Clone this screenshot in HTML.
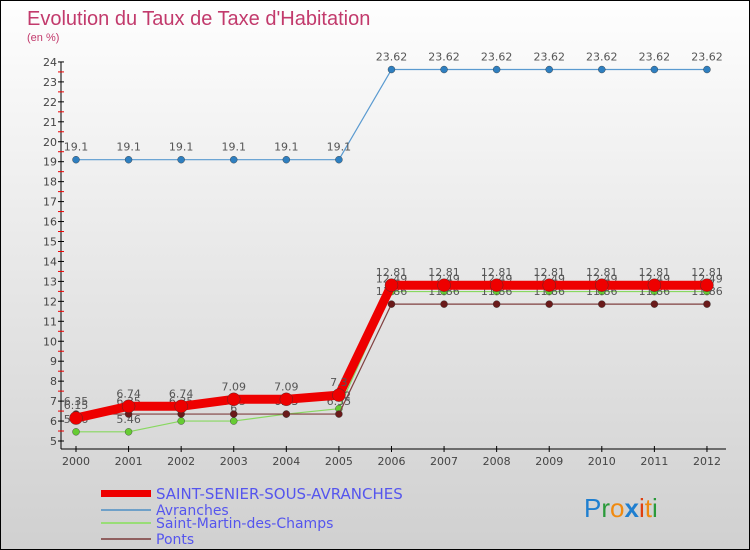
<!DOCTYPE html>
<html><head><meta charset="utf-8"><style>
body{margin:0}
#wrap{width:748px;height:548px;border:1px solid #000;position:relative;background:linear-gradient(#fefefe,#d0d0d0);font-family:"DejaVu Sans","Liberation Sans",sans-serif;overflow:hidden}
</style></head><body>
<div id="wrap">
<svg id="svg" width="748" height="548">
<text x="26" y="24" font-size="20" fill="#c23a6c" font-family="Liberation Sans">Evolution du Taux de Taxe d'Habitation</text>
<text x="26" y="40" font-size="11" fill="#c23a6c" font-family="Liberation Sans">(en %)</text>
<g id="axes"></g><g id="series"></g>
<g>
<rect x="100" y="489" width="50" height="7" fill="#ee0000"/>
<text x="155" y="498" font-size="15" fill="#5555ee">SAINT-SENIER-SOUS-AVRANCHES</text>
<rect x="100" y="508" width="50" height="2" fill="#6fa0c8"/>
<text x="155" y="514" font-size="14" fill="#5555ee">Avranches</text>
<rect x="100" y="521" width="50" height="2" fill="#99dd77"/>
<text x="155" y="527" font-size="14" fill="#5555ee">Saint-Martin-des-Champs</text>
<rect x="100" y="537" width="50" height="2" fill="#906060"/>
<text x="155" y="543" font-size="14" fill="#5555ee">Ponts</text>
</g>
<text x="583" y="516" font-size="26" font-family="Liberation Sans"><tspan fill="#1f7fd0">P</tspan><tspan fill="#2a9a3a">r</tspan><tspan fill="#f08a10">o</tspan><tspan fill="#1f7fd0" font-weight="bold">x</tspan><tspan fill="#e04010">i</tspan><tspan fill="#f08a10">t</tspan><tspan fill="#2a9a3a">i</tspan></text>
</svg>
</div>
<script>
const years=["2000","2001","2002","2003","2004","2005","2006","2007","2008","2009","2010","2011","2012"];
const yTicks=[5,6,7,8,9,10,11,12,13,14,15,16,17,18,19,20,21,22,23,24];
const saintSenier=[6.15,6.74,6.74,7.09,7.09,7.3,12.81,12.81,12.81,12.81,12.81,12.81,12.81];
const avranches=[19.1,19.1,19.1,19.1,19.1,19.1,23.62,23.62,23.62,23.62,23.62,23.62,23.62];
const saintMartin=[5.46,5.46,6,6,6.35,6.62,12.49,12.49,12.49,12.49,12.49,12.49,12.49];
const ponts=[6.35,6.35,6.35,6.35,6.35,6.35,11.86,11.86,11.86,11.86,11.86,11.86,11.86];
const NS="http://www.w3.org/2000/svg";
const X=i=>75+i*52.58, Y=v=>440-(v-5)*19.95;
function mk(t,a,p){const e=document.createElementNS(NS,t);for(const k in a)e.setAttribute(k,a[k]);p.appendChild(e);return e;}
const ax=document.getElementById('axes');
let e=mk('line',{x1:60,y1:61,x2:60,y2:448,stroke:'#000'},ax);


e=mk('line',{x1:60,y1:448,x2:725,y2:448,stroke:'#000'},ax);


yTicks.forEach(v=>{mk('line',{x1:57,x2:63,y1:Y(v),y2:Y(v),stroke:'#000'},ax);
 if(v<24)mk('line',{x1:57,x2:63,y1:Y(v+0.5),y2:Y(v+0.5),stroke:'#e00'},ax);
 const t=mk('text',{x:56,y:Y(v)+4,'font-size':11,'text-anchor':'end',fill:'#444'},ax);t.textContent=v;
 
 });
years.forEach((y,i)=>{mk('line',{x1:X(i),x2:X(i),y1:445,y2:451,stroke:'#000'},ax);
 const t=mk('text',{x:X(i),y:464,'font-size':11,'text-anchor':'middle',fill:'#444'},ax);t.textContent=y;
 
 });
const sg=document.getElementById('series');
function draw(data,name,color,w,r,dot){
 const g=mk('g',{},sg);
 
 
 mk('polyline',{points:data.map((v,i)=>X(i)+','+Y(v)).join(' '),fill:'none',stroke:color,'stroke-width':w,'stroke-linejoin':'round'},g);
 data.forEach((v,i)=>{const c=mk('circle',{cx:X(i),cy:Y(v),r:r,fill:dot,stroke:'#333','stroke-width':0.4},g);
  
  
  const t=mk('text',{x:X(i),y:Y(v)-9,'font-size':11,'text-anchor':'middle',fill:'#555'},g);t.textContent=String(v);
  
  });
}
draw(avranches,'avranches','#5a9ad0',1.2,3.5,'#2e7fc0');
draw(saintMartin,'saint-martin','#88d860',1.2,3.5,'#66cc33');
draw(ponts,'ponts','#804040',1.2,3.5,'#6a1a1a');
draw(saintSenier,'saint-senier','#ee0000',9,6.5,'#ee0000');
</script>
</body></html>
